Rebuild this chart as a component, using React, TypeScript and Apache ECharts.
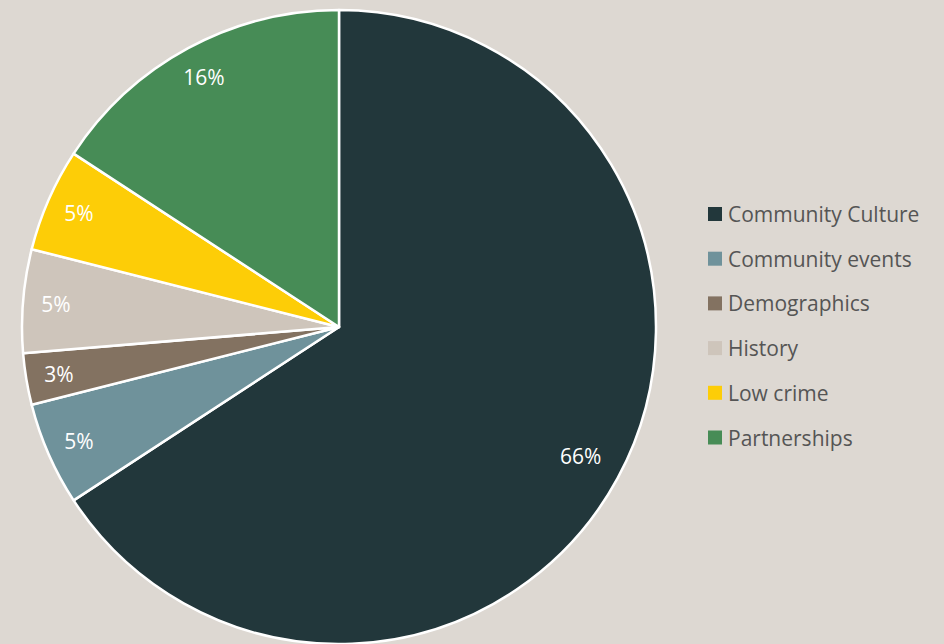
import React, { useEffect, useRef } from "react";
import * as echarts from "echarts";

const categories = ["Community Culture", "Community events", "Demographics", "History", "Low crime", "Partnerships"];
const counts = [25, 2, 1, 2, 2, 6];
const colors = ["#22373b", "#6f929b", "#837261", "#cec5bb", "#fdcd07", "#478c56"];

const CX = 339;
const CY = 327;
const R = 317;
const LABEL_R = 281;

export default function App() {
  const ref = useRef<HTMLDivElement>(null);
  useEffect(() => {
    if (!ref.current) return;
    const chart = echarts.init(ref.current, undefined, { renderer: "svg" });
    const data = categories.map((name, i) => ({ name, value: counts[i], itemStyle: { color: colors[i] } }));
    chart.setOption({
      animation: false,
      backgroundColor: "#ddd8d2",
      color: colors,
      legend: {
        orient: "vertical",
        left: 708,
        top: 203,
        padding: 0,
        itemWidth: 14,
        itemHeight: 14,
        itemGap: 22.7,
        icon: "rect",
        itemStyle: { borderWidth: 0 },
        textStyle: { fontFamily: "Open Sans", fontSize: 21, lineHeight: 22, color: "#555555", padding: [0, 0, 0, 1] },
        data: categories,
      },
      series: [
        {
          type: "pie",
          center: [CX, CY],
          radius: [0, R],
          startAngle: 90,
          clockwise: true,
          percentPrecision: 0,
          itemStyle: { borderColor: "#ffffff", borderWidth: 2.5 },
          label: { show: false },
          labelLine: { show: false },
          emphasis: { disabled: true },
          data,
        },
        {
          type: "pie",
          center: [CX, CY],
          radius: [2 * LABEL_R - R, R],
          startAngle: 90,
          clockwise: true,
          silent: true,
          percentPrecision: 0,
          itemStyle: { color: "rgba(0,0,0,0)", borderWidth: 0 },
          label: {
            show: true,
            position: "inside",
            formatter: "{d}%",
            color: "#ffffff",
            fontFamily: "Open Sans",
            fontSize: 21,
          },
          labelLayout: (params: any) => (params.dataIndex === 0 ? { dx: -8, dy: -6 } : {}),
          labelLine: { show: false },
          emphasis: { disabled: true },
          legendHoverLink: false,
          data: categories.map((name, i) => ({ name: name + " ", value: counts[i] })),
        },
      ],
    });
    return () => chart.dispose();
  }, []);
  return <div ref={ref} style={{ position: "fixed", left: 0, top: 0, width: 944, height: 644 }} />;
}
